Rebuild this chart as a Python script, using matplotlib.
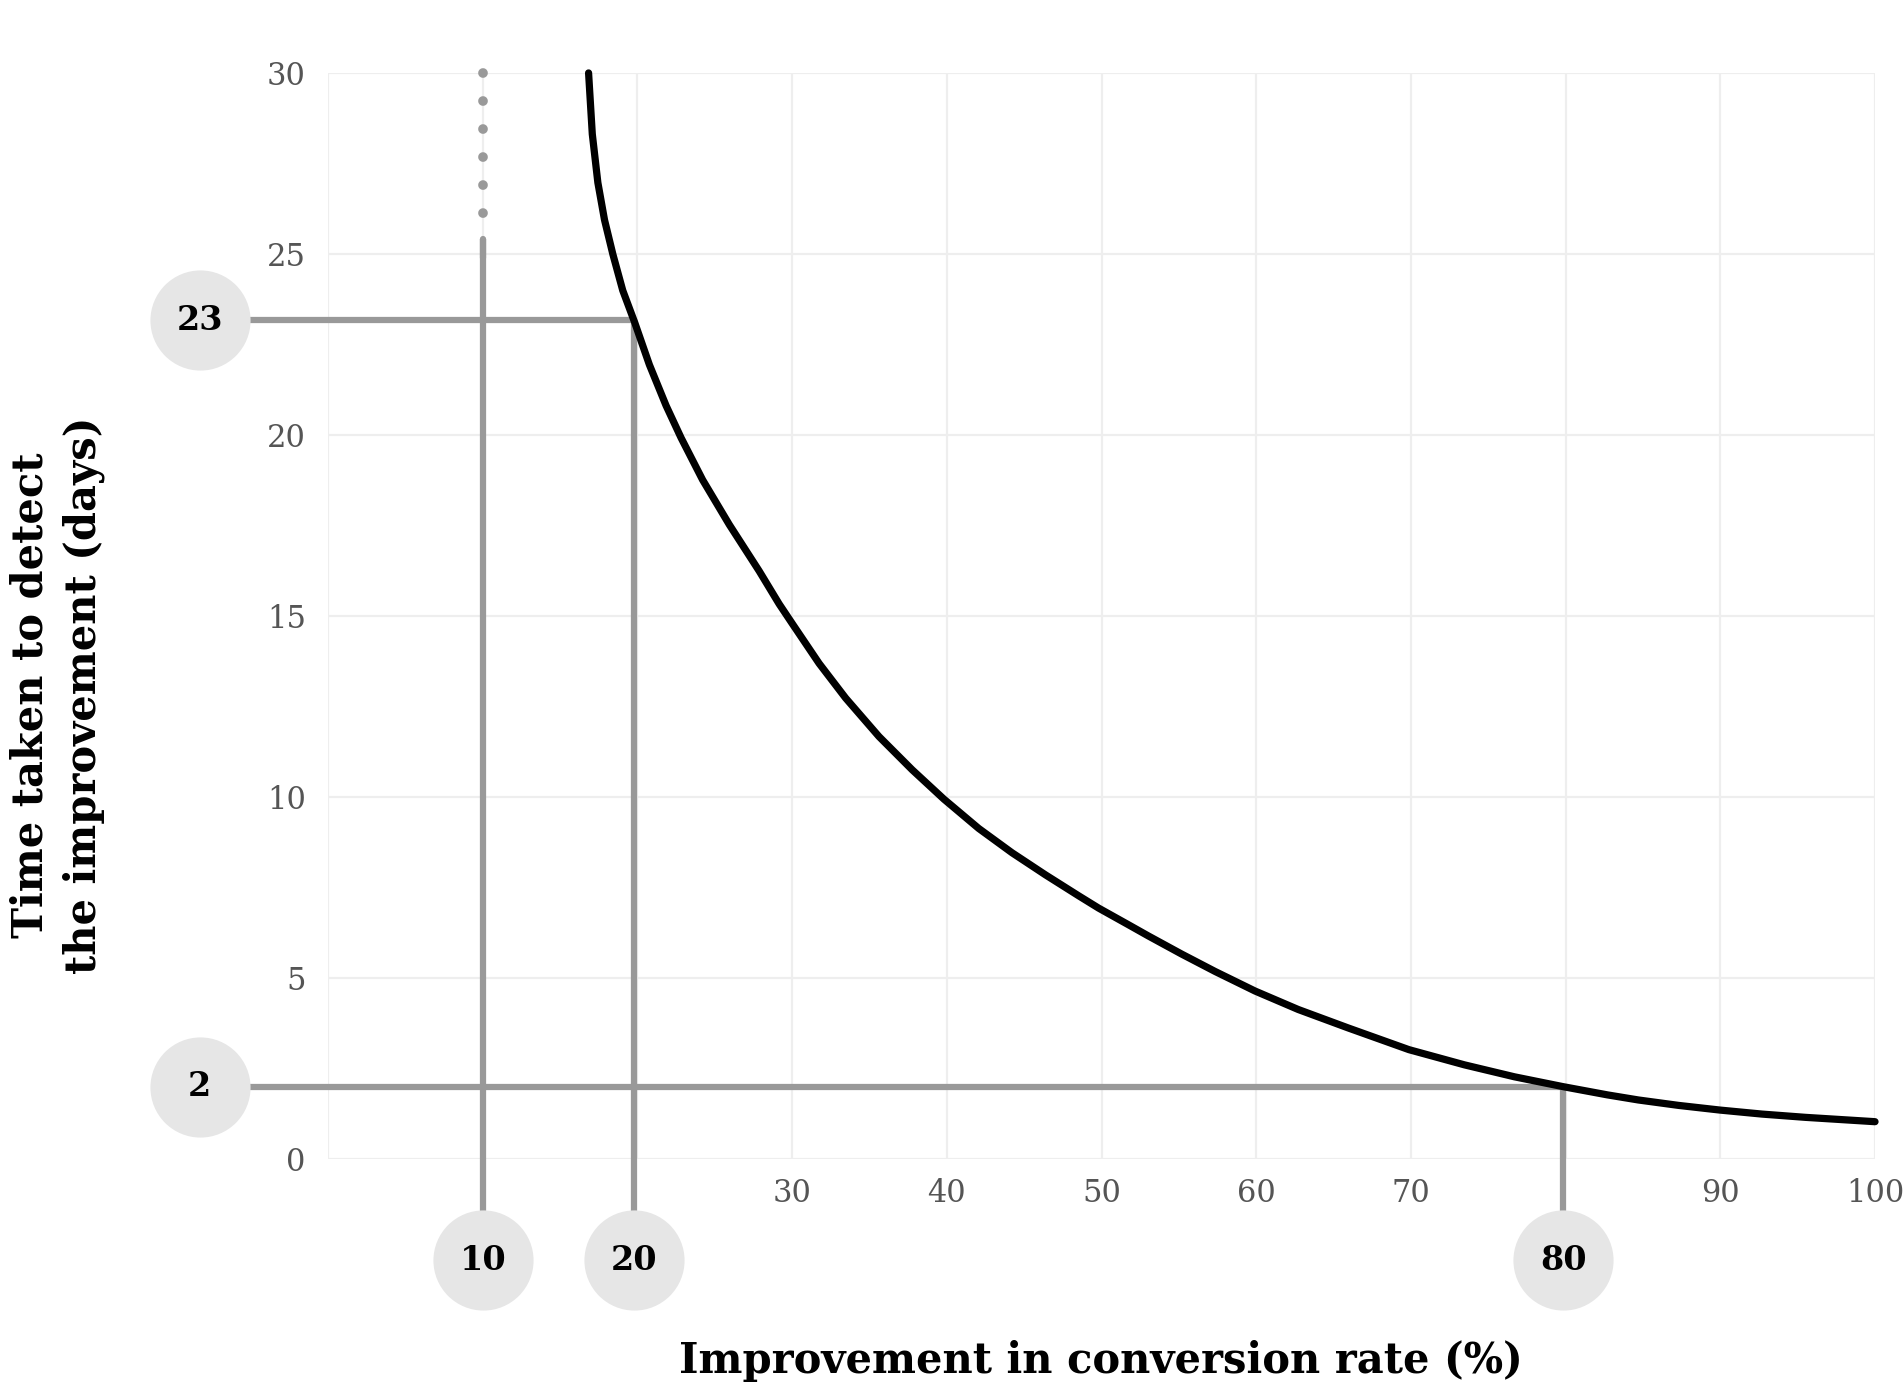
import matplotlib
matplotlib.use('Agg')  # sin pantalla
import matplotlib.pyplot as plt

plt.rcParams['font.family'] = 'DejaVu Serif'

# curva: mejora (%) vs dias
improvement = [16.84, 17.08, 17.44, 17.87, 18.41, 19.05, 19.81, 20.77, 21.85,
               22.82, 24.21, 25.94, 27.87, 29.16, 30.02, 31.74, 33.46, 35.61,
               37.76, 39.81, 42.06, 44.21, 46.37, 48.52, 49.81, 51.74, 53.03,
               55.18, 57.34, 59.92, 62.71, 65.94, 69.87, 73.46, 76.69, 79.81,
               82.71, 84.7, 87.3, 90.0, 92.7, 95.5, 100.0]
days = [30.0, 28.31, 26.97, 25.94, 24.99, 23.99, 23.12, 21.94, 20.81,
        19.92, 18.76, 17.52, 16.24, 15.33, 14.78, 13.69, 12.73, 11.67,
        10.75, 9.94, 9.13, 8.46, 7.85, 7.27, 6.93, 6.47, 6.16,
        5.66, 5.18, 4.64, 4.13, 3.62, 3.02, 2.60, 2.27, 2.0,
        1.77, 1.63, 1.48, 1.35, 1.24, 1.15, 1.03]

x_ticks = [0, 10, 20, 30, 40, 50, 60, 70, 80, 90, 100]
x_tick_labels = ['', '', '', '30', '40', '50', '60', '70', '', '90', '100']
y_ticks = [0, 5, 10, 15, 20, 25, 30]
y_tick_labels = ['0', '5', '10', '15', '20', '25', '30']

# marcas de referencia
marked_x = [10, 19.8, 79.85]
marked_x_top = [25.4, 23.17, 2.0]
marked_x_labels = ['10', '20', '80']
marked_y = [23.17, 2.0]
marked_y_right = [19.8, 79.85]
marked_y_labels = ['23', '2']
dotted_from, dotted_to = 30.0, 26.0

GREY = '#999999'
BADGE = '#e6e6e6'
badge_xpos = -8.3   # columna de circulos a la izquierda
badge_ypos = -2.8   # fila de circulos abajo

fig = plt.figure(figsize=(19.03, 13.92), dpi=100)
ax = fig.add_axes([0.1724, 0.1674, 0.8129, 0.7802])
ax.set_xlim(0, 100)
ax.set_ylim(0, 30)

ax.set_xticks(x_ticks)
ax.set_xticklabels(x_tick_labels)
ax.set_yticks(y_ticks)
ax.set_yticklabels(y_tick_labels)
ax.tick_params(axis='both', length=0, labelsize=22, labelcolor='#555555')
ax.tick_params(axis='x', pad=14)
ax.tick_params(axis='y', pad=16)
ax.grid(True, color='#eeeeee', linewidth=1.6, zorder=0)
ax.set_axisbelow(True)
for s in ax.spines.values():
    s.set_visible(False)

# lineas guia verticales
for x, top in zip(marked_x, marked_x_top):
    ax.plot([x, x], [badge_ypos, top], color=GREY, lw=4.5, zorder=2,
            clip_on=False, solid_capstyle='butt')
ax.plot([marked_x[0], marked_x[0]], [marked_x_top[0] - 0.5, marked_x_top[0]],
        color=GREY, lw=4.5, solid_capstyle='round', zorder=2)
ax.plot([marked_x[0], marked_x[0]], [dotted_from, dotted_to], color=GREY,
        lw=7, linestyle=(0, (0.001, 2.88)), dash_capstyle='round', zorder=2,
        clip_on=False)

# lineas guia horizontales
for y, right in zip(marked_y, marked_y_right):
    ax.plot([badge_xpos, right], [y, y], color=GREY, lw=4.5, zorder=2,
            clip_on=False, solid_capstyle='butt')

# curva
ax.plot(improvement, days, color='black', lw=5.2, zorder=4,
        solid_capstyle='round', solid_joinstyle='round', clip_on=False)

# circulos con etiquetas
ax.scatter(marked_x, [badge_ypos] * len(marked_x), s=5200, color=BADGE,
           zorder=5, clip_on=False, linewidths=0)
for x, lab in zip(marked_x, marked_x_labels):
    ax.text(x, badge_ypos, lab, ha='center', va='center', fontsize=24,
            fontweight='bold', color='black', zorder=6, clip_on=False)
ax.scatter([badge_xpos] * len(marked_y), marked_y, s=5200, color=BADGE,
           zorder=5, clip_on=False, linewidths=0)
for y, lab in zip(marked_y, marked_y_labels):
    ax.text(badge_xpos, y, lab, ha='center', va='center', fontsize=24,
            fontweight='bold', color='black', zorder=6, clip_on=False)

fig.text(0.5786, 0.022, 'Improvement in conversion rate (%)', ha='center',
         va='center', fontsize=30, fontweight='bold')
fig.text(0.030, 0.5007, 'Time taken to detect\nthe improvement (days)',
         ha='center', va='center', rotation=90, fontsize=30,
         fontweight='bold', multialignment='center', linespacing=1.35)

fig.savefig('out.png', dpi=100, facecolor='white')
